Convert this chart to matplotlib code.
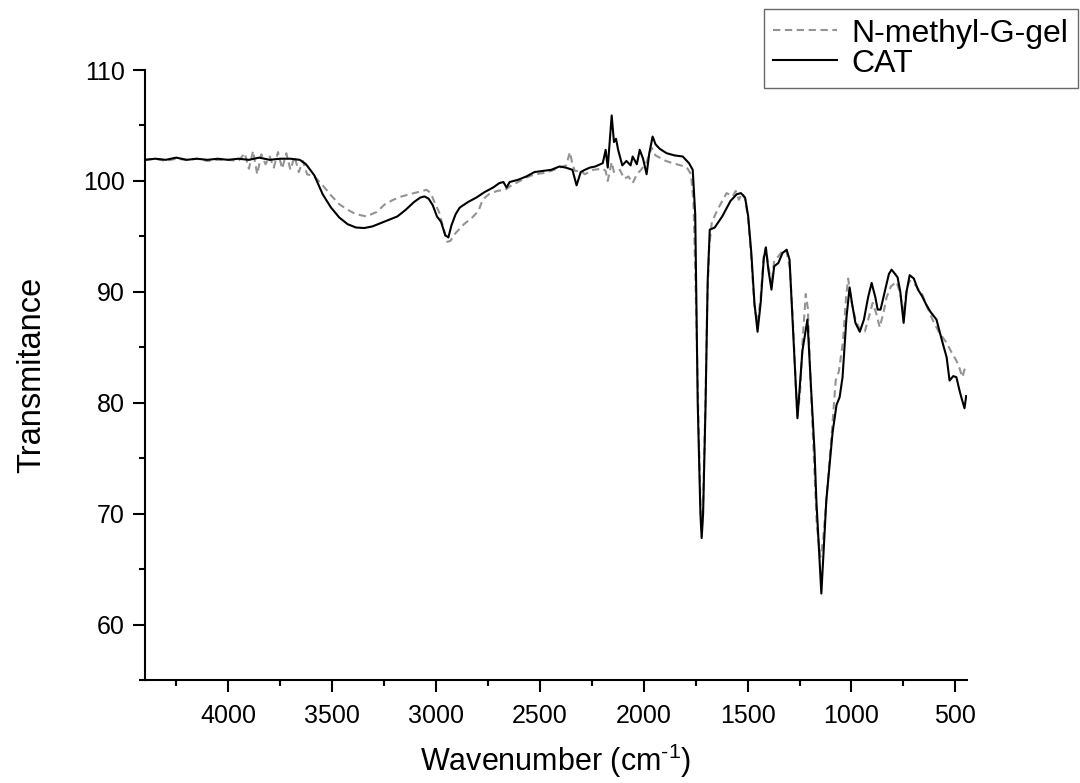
import matplotlib
matplotlib.use("Agg")
import matplotlib.pyplot as plt
from matplotlib.ticker import MultipleLocator

plt.rcParams['font.family'] = ['Liberation Sans', 'DejaVu Sans']
plt.rcParams['mathtext.fontset'] = 'custom'
plt.rcParams['mathtext.rm'] = 'Liberation Sans'

# CAT (solid black)
cat_wn = [4400, 4350, 4300, 4250, 4200, 4150, 4100, 4050, 4000, 3950,
          3900, 3850, 3800, 3750, 3700, 3655, 3625, 3585, 3545, 3505,
          3465, 3425, 3385, 3345, 3305, 3265, 3225, 3185, 3145, 3105,
          3075, 3055, 3035, 3015, 2995, 2975, 2955, 2940, 2925, 2905,
          2885, 2845, 2805, 2765, 2725, 2695, 2675, 2660, 2645, 2605,
          2565, 2525, 2485, 2445, 2405, 2375, 2343, 2323, 2303, 2283,
          2259, 2233, 2197, 2183, 2173, 2154, 2143, 2133, 2123, 2103,
          2083, 2063, 2053, 2033, 2019, 2003, 1986, 1973, 1957, 1943,
          1923, 1890, 1852, 1812, 1782, 1764, 1752, 1740, 1727, 1721,
          1714, 1702, 1692, 1682, 1658, 1622, 1582, 1552, 1532, 1512,
          1497, 1482, 1467, 1452, 1437, 1422, 1412, 1400, 1385, 1372,
          1352, 1332, 1312, 1298, 1284, 1260, 1236, 1212, 1195, 1178, 1169,
          1145, 1121, 1091, 1072, 1057, 1043, 1024, 1009, 996, 981,
          960, 940, 920, 903, 885, 874, 860, 840, 820, 807,
          790, 778, 765, 749, 735, 720, 700, 680, 660, 639,
          620, 591, 560, 542, 528, 510, 495, 480, 470, 456,
          448]
cat_t = [101.9, 102.0, 101.9, 102.1, 101.9, 102.0, 101.9, 102.0, 101.9, 102.0,
         101.9, 102.1, 101.9, 102.0, 102.0, 101.9, 101.5, 100.5, 98.8, 97.6,
         96.7, 96.1, 95.8, 95.75, 95.9, 96.2, 96.5, 96.8, 97.4, 98.1,
         98.5, 98.6, 98.4, 97.8, 96.8, 96.3, 95.1, 94.9, 96.0, 97.0,
         97.6, 98.1, 98.5, 99.0, 99.4, 99.8, 99.9, 99.4, 99.9, 100.1,
         100.4, 100.8, 100.9, 101.0, 101.3, 101.2, 101.0, 99.6, 100.8, 101.0,
         101.2, 101.3, 101.6, 102.8, 101.2, 105.9, 103.5, 103.8, 102.8, 101.4,
         101.8, 101.4, 102.2, 101.5, 102.8, 102.0, 100.6, 102.5, 104.0, 103.3,
         102.9, 102.5, 102.3, 102.2, 101.6, 101.0, 97.0, 80.0, 70.0, 67.8,
         70.0, 80.0, 91.0, 95.6, 95.8, 96.8, 98.2, 98.8, 98.9, 98.5,
         96.8, 93.5, 89.0, 86.4, 89.0, 93.0, 94.0, 92.0, 90.2, 92.3,
         92.6, 93.5, 93.8, 92.9, 87.7, 78.6, 84.7, 87.5, 81.5, 75.7, 71.2,
         62.8, 71.2, 77.3, 79.8, 80.5, 82.3, 87.7, 90.4, 88.8, 87.2,
         86.4, 87.5, 89.5, 90.8, 89.5, 88.4, 88.4, 90.0, 91.6, 92.0,
         91.6, 91.3, 90.0, 87.2, 90.0, 91.5, 91.2, 90.2, 89.6, 88.8,
         88.2, 87.5, 85.3, 84.1, 82.0, 82.4, 82.3, 81.1, 80.4, 79.5,
         80.6]

# N-methyl-G-gel (grey dashed)
gel_wn = [4400, 4350, 4300, 4250, 4200, 4150, 4100, 4050, 4000, 3950,
          3920, 3900, 3880, 3860, 3840, 3820, 3800, 3780, 3760, 3740,
          3720, 3700, 3680, 3660, 3640, 3620, 3585, 3545, 3505, 3465,
          3425, 3385, 3335, 3285, 3245, 3205, 3165, 3105, 3045, 3025,
          3005, 2985, 2965, 2945, 2930, 2905, 2865, 2825, 2795, 2775,
          2745, 2705, 2665, 2645, 2605, 2565, 2525, 2485, 2445, 2405,
          2373, 2355, 2343, 2331, 2303, 2283, 2243, 2197, 2183, 2173,
          2154, 2143, 2115, 2093, 2073, 2053, 2033, 2013, 1986, 1962,
          1943, 1923, 1893, 1860, 1822, 1792, 1772, 1760, 1747, 1736,
          1727, 1720, 1714, 1704, 1694, 1685, 1672, 1642, 1601, 1572,
          1557, 1542, 1527, 1512, 1497, 1482, 1467, 1452, 1437, 1422,
          1412, 1400, 1385, 1372, 1352, 1327, 1312, 1297, 1282, 1267,
          1260, 1247, 1234, 1220, 1210, 1197, 1182, 1167, 1150, 1137,
          1122, 1107, 1091, 1076, 1061, 1041, 1026, 1016, 1001, 981,
          960, 936, 915, 898, 880, 864, 845, 831, 810, 783,
          765, 749, 735, 720, 700, 680, 660, 630, 610, 580,
          542, 520, 495, 480, 466, 456, 448]
gel_t = [101.9, 102.0, 101.8, 102.0, 101.9, 102.0, 101.8, 101.9, 101.9, 101.8,
         102.5, 101.1, 102.7, 100.6, 102.4, 101.5, 102.2, 101.2, 102.6, 101.1,
         102.5, 101.0, 102.2, 100.8, 101.8, 100.6, 100.4, 99.6, 98.7, 97.9,
         97.4, 97.0, 96.8, 97.2, 97.9, 98.3, 98.6, 98.9, 99.2, 98.9,
         98.0, 97.2, 95.8, 94.5, 94.6, 95.3, 96.1, 96.7, 97.3, 98.3,
         98.8, 99.1, 99.2, 99.5, 99.9, 100.3, 100.6, 100.7, 100.9, 101.2,
         101.4, 102.6, 101.5, 100.9, 100.9, 100.6, 101.0, 101.1, 100.9, 100.0,
         101.7, 100.8, 101.0, 100.2, 100.4, 99.8, 100.6, 101.0, 101.7, 103.0,
         102.3, 102.1, 101.8, 101.6, 101.4, 101.2, 100.6, 98.0, 88.0, 78.0,
         71.0, 68.5, 71.0, 79.0, 89.0, 94.0, 96.3, 97.5, 98.9, 98.6,
         99.1, 98.3, 98.9, 98.4, 96.5, 93.0, 88.6, 87.2, 89.5, 93.3,
         94.0, 92.3, 90.6, 92.8, 93.2, 93.8, 93.6, 92.2, 87.5, 81.0,
         78.8, 81.0, 86.0, 89.8, 88.5, 82.0, 75.5, 69.0, 66.1, 67.5,
         71.0, 74.5, 78.2, 82.0, 82.8, 85.5, 89.5, 91.2, 89.2, 87.5,
         86.6, 86.4, 87.8, 89.0, 88.0, 86.8, 88.2, 89.5, 90.5, 90.9,
         89.8, 88.0, 90.2, 91.0, 90.8, 90.3, 89.8, 88.4, 87.5, 86.4,
         85.4, 84.6, 83.8, 83.1, 82.3, 83.0, 82.8]

fig = plt.figure(figsize=(10.8, 7.83), dpi=100)
ax = fig.add_axes([145 / 1080, 1 - 680 / 783, (967 - 145) / 1080, (680 - 70) / 783])

ax.plot(gel_wn, gel_t, color='#939393', lw=1.5, ls=(0, (3.5, 2.2)), label='N-methyl-G-gel')
ax.plot(cat_wn, cat_t, color='black', lw=1.5, label='CAT')

ax.set_xlim(4400, 444)
ax.set_ylim(55, 110)
ax.xaxis.set_major_locator(MultipleLocator(500))
ax.xaxis.set_minor_locator(MultipleLocator(250))
ax.yaxis.set_major_locator(MultipleLocator(10))
ax.yaxis.set_minor_locator(MultipleLocator(5))

for side in ('top', 'right'):
    ax.spines[side].set_visible(False)
for side in ('left', 'bottom'):
    ax.spines[side].set_linewidth(1.5)
ax.tick_params(which='major', direction='out', length=8.5, width=1.5, labelsize=18, pad=6)
ax.tick_params(which='minor', direction='out', length=4.5, width=1.5)
ax.tick_params(axis='x', which='major', pad=9)

ax.set_xlabel('Wavenumber (cm$^{\\text{-1}}$)', fontsize=22, labelpad=10)
ax.set_ylabel('Transmitance', fontsize=23.5, labelpad=26)

leg = fig.legend(loc='upper right', bbox_to_anchor=(1078 / 1080, 1 - 9 / 783), fontsize=23,
                 frameon=True, fancybox=False, edgecolor='#444444', handlelength=2.0,
                 handletextpad=0.45, borderpad=0.3, labelspacing=0.0, borderaxespad=0)
leg.get_frame().set_linewidth(1.0)

fig.savefig('out.png', dpi=100)
